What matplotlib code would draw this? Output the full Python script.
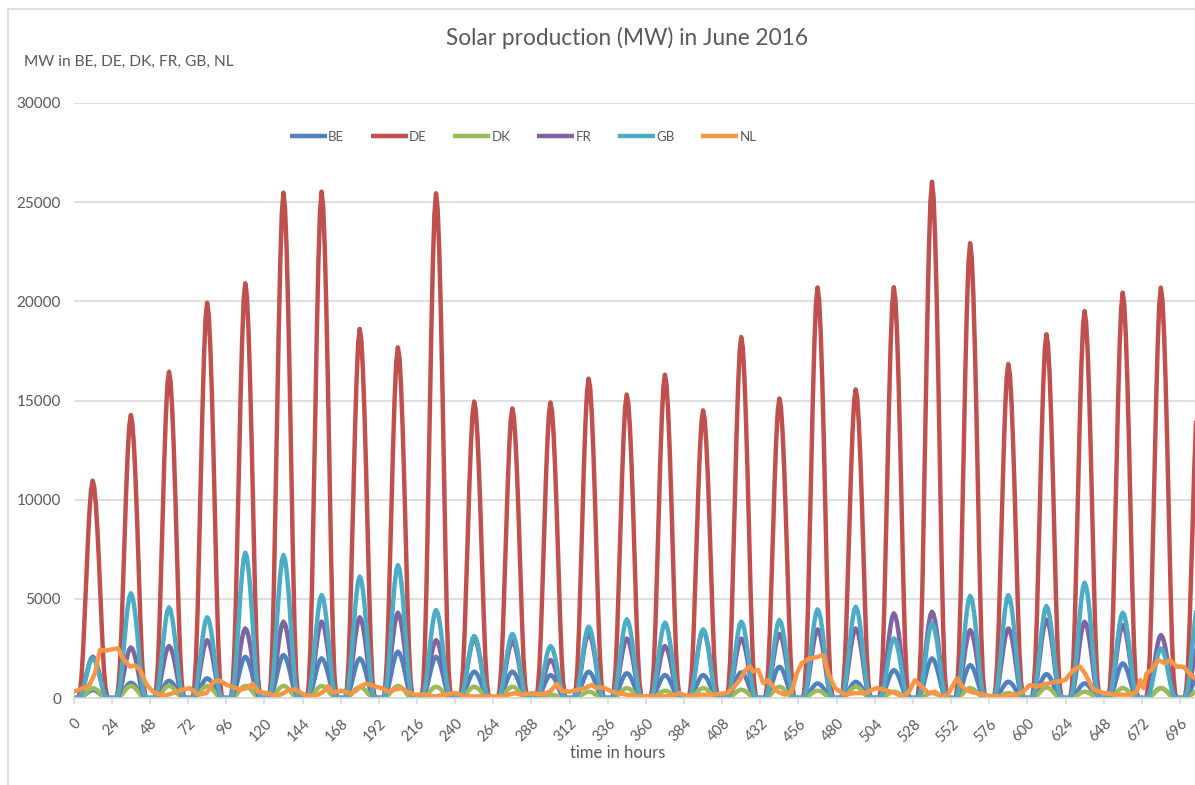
import numpy as np
import matplotlib
matplotlib.use("Agg")
import matplotlib.pyplot as plt
from matplotlib.lines import Line2D
import matplotlib.transforms as mtransforms

plt.rcParams['font.family'] = ['Lato', 'DejaVu Sans']

# ---------------- data ----------------
SERIES = ["BE", "DE", "DK", "FR", "GB", "NL"]
COLORS = ["#4F81BD", "#C0504D", "#9BBB59", "#8064A2", "#4BACC6", "#F79646"]

# normalised hourly shape of a sunny day (hour 0..23)
DAY_SHAPE = [0, 0, 0, 0, 0.03, 0.10, 0.22, 0.38, 0.55, 0.72, 0.86, 0.96,
             1.0, 0.97, 0.89, 0.77, 0.62, 0.45, 0.28, 0.14, 0.05, 0.01, 0, 0]

# daily peaks (MW), days 1..30 of June
DE_PEAKS = [10960, 14270, 16450, 19930, 20910, 25480, 25530, 18610, 17680, 25450,
            14950, 14600, 14900, 16100, 15300, 16300, 14500, 18200, 15100, 20700,
            15560, 20710, 26030, 22930, 16840, 18340, 19510, 20440, 20690, 16000]
GB_PEAKS = [2000, 5280, 4570, 4070, 7330, 7210, 5190, 6120, 6700, 4440,
            3130, 3230, 2620, 3600, 3970, 3800, 3460, 3850, 3930, 4470,
            4600, 3010, 3770, 5150, 5190, 4640, 5810, 4300, 2500, 5000]
FR_PEAKS = [2080, 2550, 2620, 2920, 3510, 3850, 3850, 4070, 4300, 2920,
            2990, 2860, 1920, 3260, 3000, 2620, 3430, 3000, 3230, 3460,
            3510, 4270, 4350, 3430, 3510, 3950, 3850, 3680, 3180, 2800]
BE_PEAKS = [400, 770, 870, 990, 2080, 2170, 2000, 2000, 2340, 2080,
            1330, 1330, 1160, 1330, 1250, 1160, 1160, 1300, 1580, 740,
            820, 1410, 2000, 1660, 820, 1210, 740, 1750, 500, 1200]
DK_PEAKS = [500, 610, 610, 610, 610, 610, 610, 560, 610, 570,
            570, 570, 170, 320, 500, 370, 500, 420, 570, 370,
            570, 320, 250, 500, 250, 540, 320, 500, 500, 400]

# NL: points (hour, MW)
NL_HOURS = [0, 6, 10, 13.5, 16.6, 20.8, 25, 28, 31, 35.5, 38.6, 41.8, 46, 50, 56.4,
            62.7, 69, 73, 78.5, 83.7, 88, 92, 96.3, 100.5, 104.7, 108.9, 112.7, 116,
            121.5, 127.8, 132, 136, 139.6, 145, 152, 157, 160, 163, 168.6, 172.8, 177,
            181, 184, 189.6, 193.8, 198, 202, 206.4, 210.6, 214.8, 221, 227.4, 233.6,
            240, 246, 252.5, 261, 269, 277.7, 281, 289, 293, 299.7, 304, 307, 312,
            317.5, 321.7, 326, 329, 333, 337.4, 341.6, 348, 356, 364.7, 373, 379, 381,
            385.5, 394, 402, 411, 415, 419, 422.6, 425.5, 427.6, 430.7, 434, 437, 440,
            443, 447.5, 451.7, 455, 458, 463, 467, 471.6, 474.8, 479, 485, 491.6,
            497.9, 505, 510, 516.7, 521, 525, 529.3, 533.5, 537.7, 541.9, 546, 550,
            555.6, 559.8, 564, 570, 577, 585, 593, 597.4, 601.6, 605.8, 612, 618.6,
            623.7, 629, 633, 636.3, 641.5, 648, 656, 665, 668.8, 671, 673, 675, 678,
            682.4, 686.6, 689.7, 694, 698, 702, 705.5]
NL_VALUES = [320, 490, 660, 1260, 2420, 2400, 2470, 2500, 2000, 1580, 1650, 1410, 660,
             320, 100, 250, 420, 500, 170, 250, 820, 880, 660, 540, 420, 500, 720, 320,
             250, 80, 250, 420, 420, 170, 80, 320, 610, 270, 370, 250, 320, 610, 720,
             590, 500, 320, 420, 500, 270, 170, 170, 80, 170, 250, 100, 80, 80, 80,
             250, 170, 250, 170, 320, 720, 370, 320, 420, 500, 660, 500, 540, 370, 250,
             170, 80, 100, 100, 170, 250, 100, 170, 170, 250, 500, 900, 1400, 1580,
             1340, 1410, 740, 900, 570, 320, 170, 320, 1240, 1750, 2000, 2050, 2170,
             1240, 500, 170, 250, 250, 500, 420, 250, 80, 250, 900, 570, 250, 320, 80,
             170, 990, 500, 320, 200, 100, 80, 170, 320, 660, 570, 720, 820, 900, 1410,
             1580, 1240, 420, 250, 170, 170, 320, 900, 500, 1240, 1410, 1910, 1750,
             1910, 1580, 1580, 1240, 990]

X_TICKS = list(range(0, 697, 24))
Y_TICKS = [0, 5000, 10000, 15000, 20000, 25000, 30000]

TITLE = "Solar production (MW) in June 2016"
Y_LABEL = "MW in BE, DE, DK, FR, GB, NL"
X_LABEL = "time in hours"

# ---------------- build hourly series ----------------
hours = np.arange(720)
shape = np.array(DAY_SHAPE)

def hourly(peaks):
    return (np.array(peaks)[:, None] * shape[None, :]).ravel()

series_data = {
    "BE": (hours, hourly(BE_PEAKS)),
    "DE": (hours, hourly(DE_PEAKS)),
    "DK": (hours, hourly(DK_PEAKS)),
    "FR": (hours, hourly(FR_PEAKS)),
    "GB": (hours, hourly(GB_PEAKS)),
    "NL": (np.array(NL_HOURS), np.array(NL_VALUES)),
}

# ---------------- figure ----------------
W, H = 1195, 785
fig = plt.figure(figsize=(W / 100, H / 100), dpi=100)
x0, x1, y0, y1 = 73.6, 1195, 698, 103
ax = fig.add_axes([x0 / W, 1 - y0 / H, (x1 - x0) / W, (y0 - y1) / H])

TXT = "#595959"
GRID = "#D9D9D9"

handles = []
for name, col in zip(SERIES, COLORS):
    xs, ys = series_data[name]
    ln, = ax.plot(xs, ys, color=col, lw=3.2, solid_joinstyle='round',
                  solid_capstyle='round', label=name)
    handles.append(ln)

ax.set_xlim(0, (x1 - x0) / (38.15 / 24))
ax.set_ylim(0, 30000)
ax.set_yticks(Y_TICKS)
ax.set_yticklabels([str(v) for v in Y_TICKS])
ax.set_xticks(X_TICKS)
ax.set_xticklabels([str(v) for v in X_TICKS])
ax.yaxis.grid(True, color=GRID, lw=1.2)
ax.set_axisbelow(True)
for s in ["top", "right", "left"]:
    ax.spines[s].set_visible(False)
ax.spines["bottom"].set_color(GRID)
ax.spines["bottom"].set_linewidth(1.2)
ax.tick_params(axis="y", length=0, pad=9, labelsize=11, labelcolor=TXT)
ax.tick_params(axis="x", length=4, color=GRID, width=1.2, pad=2,
               labelsize=10.5, labelcolor=TXT)
for lab in ax.get_xticklabels():
    lab.set_rotation(45)
    lab.set_ha("right")
    lab.set_va("center")
    lab.set_rotation_mode("anchor")
    lab.set_transform(lab.get_transform() +
                      mtransforms.ScaledTranslation(4 / 72, -11 / 72, fig.dpi_scale_trans))

fig.text(627 / W, 1 - 38 / H, TITLE, ha="center", va="center", fontsize=16.3, color=TXT)
fig.text(24 / W, 1 - 62 / H, Y_LABEL, ha="left", va="center", fontsize=11.2, color=TXT)
fig.text(618 / W, 1 - 753 / H, X_LABEL, ha="center", va="center", fontsize=12, color=TXT)

leg = fig.legend(handles=handles, loc="center", bbox_to_anchor=(523 / W, 1 - 137 / H),
                 ncol=6, frameon=False, handlelength=2.8, handletextpad=0.12,
                 columnspacing=2.0, fontsize=9.5, labelcolor=TXT)
for lh in leg.get_lines():
    lh.set_solid_capstyle("butt")

# chart border (Excel chart area)
fig.add_artist(Line2D([7.5 / W, 7.5 / W], [0, 1 - 8.5 / H], color=GRID, lw=1.2))
fig.add_artist(Line2D([7.5 / W, 1], [1 - 8.5 / H, 1 - 8.5 / H], color=GRID, lw=1.2))

fig.savefig("out.png", dpi=100)
